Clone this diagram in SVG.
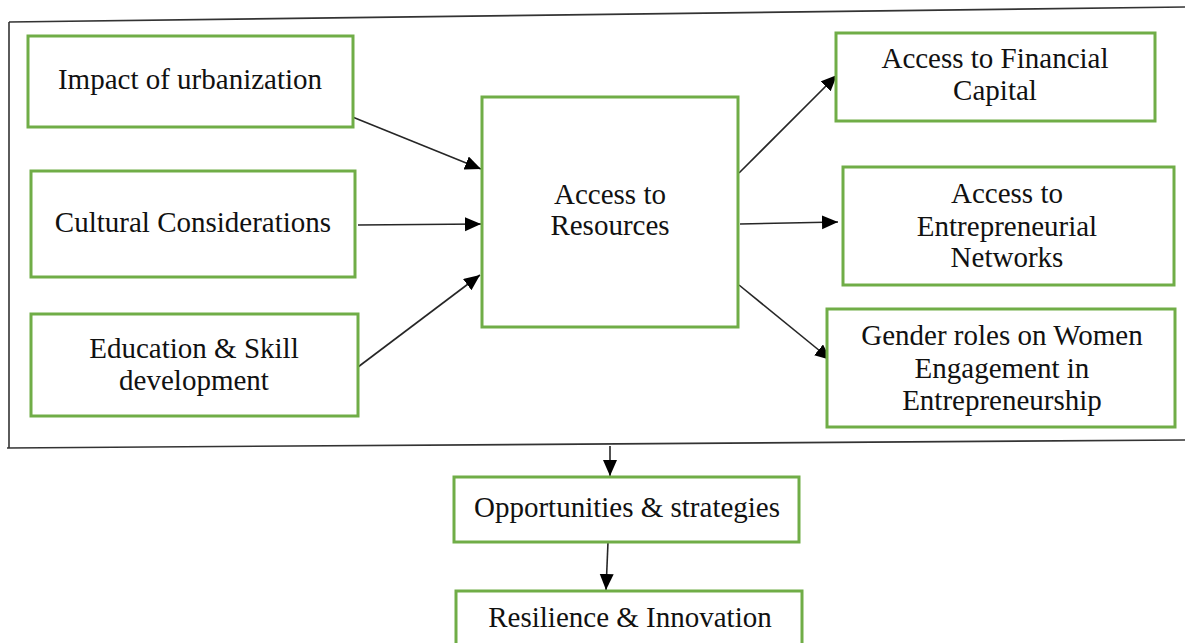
<svg xmlns="http://www.w3.org/2000/svg" width="1185" height="643" viewBox="0 0 1185 643">
  <style>
    .box { fill: #ffffff; stroke: #70ad47; stroke-width: 3; }
    .lbl { font-family: "Liberation Serif", "Times New Roman", serif; font-size: 29px; fill: #111111; text-anchor: middle; }
    .edge { stroke: #262626; stroke-width: 1.6; fill: none; marker-end: url(#arrow); }
    .frame { stroke: #333333; stroke-width: 1.6; fill: none; }
  </style>
  <defs>
    <marker id="arrow" markerUnits="userSpaceOnUse" markerWidth="18" markerHeight="16" refX="16" refY="7" orient="auto">
      <path d="M0,0 L16,7 L0,14 Z" fill="#000000"/>
    </marker>
  </defs>
  <rect width="1185" height="643" fill="#ffffff"/>

  <!-- outer frame around the framework -->
  <g id="frame">
    <path class="frame" d="M9,22 L1185,7"/>
    <path class="frame" d="M9,22 L9,448"/>
    <path class="frame" d="M7,448 L1185,440"/>
  </g>

  <g id="connectors">
    <line class="edge" x1="350" y1="116" x2="481" y2="169"/>
    <line class="edge" x1="358" y1="225" x2="481" y2="224"/>
    <line class="edge" x1="358" y1="367" x2="480" y2="275"/>
    <line class="edge" x1="739" y1="173" x2="837" y2="75"/>
    <line class="edge" x1="740" y1="224" x2="838" y2="222"/>
    <line class="edge" x1="739" y1="285" x2="831" y2="360"/>
    <line class="edge" x1="610" y1="446" x2="610" y2="476"/>
    <line class="edge" x1="608" y1="542" x2="606" y2="590"/>
  </g>

  <g id="urbanization">
    <rect class="box" x="28" y="36" width="325" height="91"/>
    <text class="lbl" x="190" y="89">Impact of urbanization</text>
  </g>
  <g id="cultural">
    <rect class="box" x="31" y="171" width="324" height="106"/>
    <text class="lbl" x="193" y="232">Cultural Considerations</text>
  </g>
  <g id="education">
    <rect class="box" x="31" y="314" width="327" height="102"/>
    <text class="lbl" x="194" y="358">Education &amp; Skill</text>
    <text class="lbl" x="194" y="390">development</text>
  </g>
  <g id="resources">
    <rect class="box" x="482" y="97" width="256" height="230"/>
    <text class="lbl" x="610" y="204">Access to</text>
    <text class="lbl" x="610" y="235">Resources</text>
  </g>
  <g id="financial">
    <rect class="box" x="836" y="33" width="319" height="88"/>
    <text class="lbl" x="995" y="68">Access to Financial</text>
    <text class="lbl" x="995" y="100">Capital</text>
  </g>
  <g id="networks">
    <rect class="box" x="843" y="167" width="331" height="118"/>
    <text class="lbl" x="1007" y="203">Access to</text>
    <text class="lbl" x="1007" y="236">Entrepreneurial</text>
    <text class="lbl" x="1007" y="267">Networks</text>
  </g>
  <g id="gender">
    <rect class="box" x="827" y="309" width="348" height="118"/>
    <text class="lbl" x="1002" y="345">Gender roles on Women</text>
    <text class="lbl" x="1002" y="378">Engagement in</text>
    <text class="lbl" x="1002" y="410">Entrepreneurship</text>
  </g>
  <g id="opportunities">
    <rect class="box" x="454" y="477" width="345" height="65"/>
    <text class="lbl" x="627" y="517">Opportunities &amp; strategies</text>
  </g>
  <g id="resilience">
    <rect class="box" x="456" y="591" width="346" height="70"/>
    <text class="lbl" x="630" y="627">Resilience &amp; Innovation</text>
  </g>
</svg>
